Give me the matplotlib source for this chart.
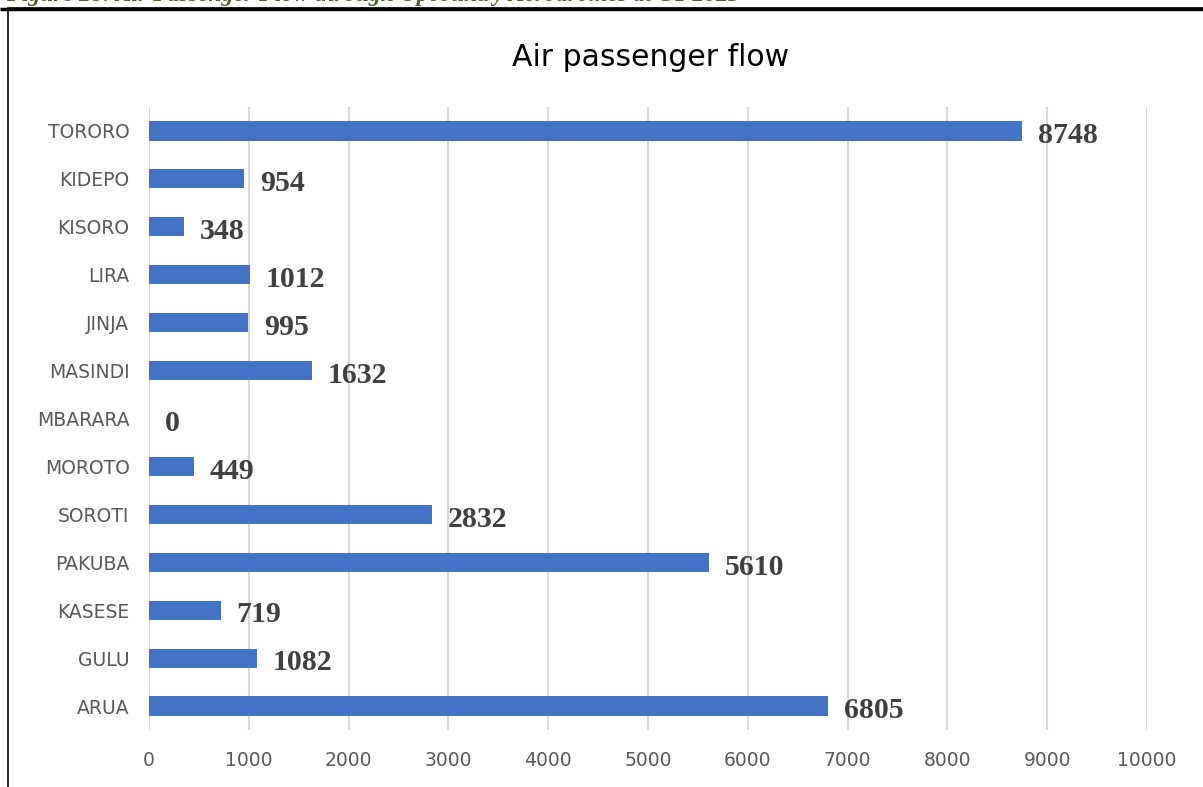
import matplotlib
matplotlib.use("Agg")
import matplotlib.pyplot as plt
from matplotlib.patches import Rectangle

categories = ["ARUA", "GULU", "KASESE", "PAKUBA", "SOROTI", "MOROTO", "MBARARA",
              "MASINDI", "JINJA", "LIRA", "KISORO", "KIDEPO", "TORORO"]
values = [6805, 1082, 719, 5610, 2832, 449, 0, 1632, 995, 1012, 348, 954, 8748]
xticks = [0, 1000, 2000, 3000, 4000, 5000, 6000, 7000, 8000, 9000, 10000]
title = "Air passenger flow"
caption = "Figure 28: Air Passenger Flow through Upcountry Aerodromes at CY 2023"

fig = plt.figure(figsize=(12.03, 7.87), dpi=100)
ax = fig.add_axes([149/1203, 1-730/787, (1147-149)/1203, (730-107)/787])

y = list(range(len(categories)))
ax.barh(y, values, height=0.4, color="#4472C4", zorder=3)
for yi, v in zip(y, values):
    ax.text(v + 160, yi - 0.1, f"{v}", ha="left", va="center",
            fontsize=21.5, fontweight="bold", family="Liberation Serif",
            color="#404040", zorder=4)

ax.set_xlim(0, 10000)
ax.set_ylim(-0.5, len(categories) - 0.5)
ax.set_xticks(xticks)
ax.set_xticklabels([str(t) for t in xticks])
ax.set_yticks(y)
ax.set_yticklabels(categories)
ax.tick_params(axis="both", length=0, labelsize=13.5, labelcolor="#595959")
ax.tick_params(axis="x", pad=15)
ax.tick_params(axis="y", pad=14)
ax.grid(axis="x", color="#D9D9D9", linewidth=1.5, zorder=0)
for s in ax.spines.values():
    s.set_visible(False)

fig.text(650/1203, 1-58/787, title, ha="center", va="center", fontsize=21.5, color="#000000")

# chart frame
fig.patches.append(Rectangle((8/1203, -0.01), 1.2, 1 - 8/787 + 0.01,
                             transform=fig.transFigure, fill=False,
                             edgecolor="black", linewidth=1.2))
fig.patches.append(Rectangle((0, 1 - 8.5/787), 1, 0, transform=fig.transFigure,
                             fill=False, edgecolor="black", linewidth=2.5))
fig.text(0.005, 1 + 4/787, caption, ha="left", va="center", fontsize=17,
         fontweight="bold", style="italic", family="Liberation Serif", color="#4F6228")

fig.savefig("out.png", dpi=100)
